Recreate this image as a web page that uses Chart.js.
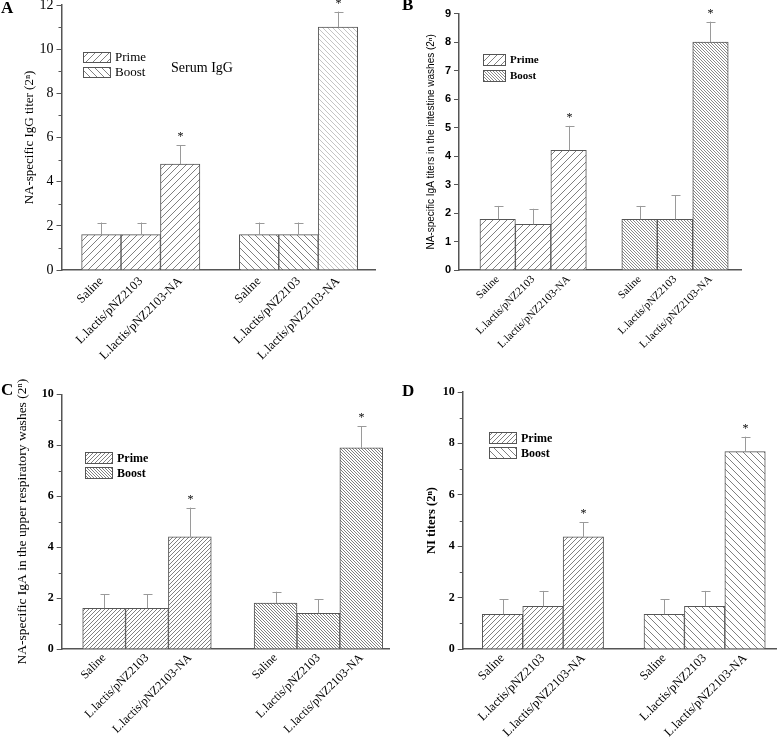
<!DOCTYPE html>
<html>
<head>
<meta charset="utf-8">
<script src="https://cdn.jsdelivr.net/npm/chart.js@4.4.1/dist/chart.umd.min.js"></script>
<style>
  body { margin: 0; background: #fff; width: 777px; height: 739px; overflow: hidden; position: relative; }
  canvas { position: absolute; }
  .tag { position: absolute; font: bold 17px "Liberation Serif", serif; color: #000; line-height: 1; }
</style>
</head>
<body>
<canvas id="chartA" width="390" height="390" style="left:0;top:-20px"></canvas>
<canvas id="chartB" width="387" height="390" style="left:390px;top:-20px"></canvas>
<canvas id="chartC" width="390" height="409" style="left:0;top:330px"></canvas>
<canvas id="chartD" width="387" height="409" style="left:390px;top:330px"></canvas>
<div class="tag" style="left:1px;top:-1px">A</div>
<div class="tag" style="left:402px;top:-4px">B</div>
<div class="tag" style="left:1px;top:381px">C</div>
<div class="tag" style="left:402px;top:382px">D</div>
<script>
const groups = ['Saline', 'L.lactis/pNZ2103', 'L.lactis/pNZ2103-NA'];
const seriesNames = ['Prime', 'Boost'];
const starred = [false, false, true];

// A: serum IgG
const iggPrime = [1.6, 1.6, 4.8];
const iggPrimeSd = [0.55, 0.55, 0.85];
const iggBoost = [1.6, 1.6, 11.0];
const iggBoostSd = [0.55, 0.55, 0.7];

// B: IgA, intestine washes
const gutPrime = [1.78, 1.6, 4.2];
const gutPrimeSd = [0.47, 0.55, 0.86];
const gutBoost = [1.78, 1.78, 8.0];
const gutBoostSd = [0.47, 0.84, 0.72];

// C: IgA, upper respiratory washes
const respPrime = [1.6, 1.6, 4.4];
const respPrimeSd = [0.55, 0.55, 1.15];
const respBoost = [1.8, 1.4, 7.9];
const respBoostSd = [0.45, 0.55, 0.85];

// D: NI titers
const niPrime = [1.35, 1.66, 4.36];
const niPrimeSd = [0.58, 0.6, 0.57];
const niBoost = [1.35, 1.66, 7.68];
const niBoostSd = [0.58, 0.6, 0.58];

// bar slots on the x axis (layout)
const slots = [[1, 2, 3], [5, 6, 7]];

Chart.defaults.animation = false;
Chart.defaults.responsive = false;

function hatch(dir, step, color) {
    const c = document.createElement('canvas');
    c.width = step;
    c.height = step;
    const g = c.getContext('2d');
    g.fillStyle = '#fff';
    g.fillRect(0, 0, step, step);
    g.strokeStyle = color;
    g.lineWidth = 1;
    g.beginPath();
    if (dir === '/') {
        g.moveTo(-1, step + 1); g.lineTo(step + 1, -1);
        g.moveTo(-1, 1); g.lineTo(1, -1);
        g.moveTo(step - 1, step + 1); g.lineTo(step + 1, step - 1);
    } else {
        g.moveTo(-1, -1); g.lineTo(step + 1, step + 1);
        g.moveTo(step - 1, -1); g.lineTo(step + 1, 1);
        g.moveTo(-1, step - 1); g.lineTo(1, step + 1);
    }
    g.stroke();
    return g.createPattern(c, 'repeat');
}

// error bars, asterisks, minor ticks, legend and notes
const deco = {
    id: 'deco',
    afterDraw(chart, args, opts) {
        const ctx = chart.ctx;
        const y = chart.scales.y;
        const area = chart.chartArea;
        ctx.save();
        chart.data.datasets.forEach((ds, di) => {
            chart.getDatasetMeta(di).data.forEach((bar, i) => {
                const top = y.getPixelForValue(ds.data[i].y + ds.errors[i]);
                const bx = Math.round(bar.x) + 0.5;
                ctx.strokeStyle = '#9a9a9a';
                ctx.lineWidth = 1;
                ctx.beginPath();
                ctx.moveTo(bx, bar.y);
                ctx.lineTo(bx, top);
                ctx.moveTo(bx - 4, Math.round(top) + 0.5);
                ctx.lineTo(bx + 5, Math.round(top) + 0.5);
                ctx.stroke();
                if (starred[i]) {
                    ctx.fillStyle = '#000';
                    ctx.font = '12px "Liberation Serif"';
                    ctx.textAlign = 'center';
                    ctx.textBaseline = 'alphabetic';
                    ctx.fillText('*', bx, top - 5);
                }
            });
        });

        if (opts.minor) {
            ctx.strokeStyle = '#555';
            ctx.lineWidth = 1;
            ctx.beginPath();
            for (let v = 1; v < y.max; v += 2) {
                const py = Math.round(y.getPixelForValue(v)) + 0.5;
                ctx.moveTo(area.left - 3, py);
                ctx.lineTo(area.left, py);
            }
            ctx.stroke();
        }

        const lg = opts.legend;
        chart.data.datasets.forEach((ds, di) => {
            const bx = lg.x, by = lg.y + di * lg.step;
            ctx.fillStyle = ds.legendFill;
            ctx.fillRect(bx, by, lg.w, lg.h);
            ctx.strokeStyle = '#555';
            ctx.lineWidth = 1;
            ctx.strokeRect(bx + 0.5, by + 0.5, lg.w, lg.h);
            ctx.fillStyle = '#000';
            ctx.font = lg.font;
            ctx.textAlign = 'left';
            ctx.textBaseline = 'middle';
            ctx.fillText(ds.label, bx + lg.w + 5, by + lg.h / 2 + 1);
        });

        if (opts.note) {
            ctx.fillStyle = '#000';
            ctx.font = opts.note.font;
            ctx.textAlign = 'center';
            ctx.textBaseline = 'middle';
            ctx.fillText(opts.note.text, opts.note.x, opts.note.y);
        }
        ctx.restore();
    }
};

function makeChart(id, p) {
    const tickLabels = groups.concat(groups);
    const tickAt = slots[0].concat(slots[1]);
    const fills = p.fills;
    return new Chart(id, {
        type: 'bar',
        data: {
            datasets: [
                {
                    label: seriesNames[0],
                    data: p.prime.map((v, i) => ({ x: slots[0][i], y: v })),
                    errors: p.primeSd,
                    backgroundColor: fills[0],
                    legendFill: fills[0],
                    borderColor: '#555',
                    borderWidth: 1,
                    grouped: false,
                    barPercentage: 1,
                    categoryPercentage: 1
                },
                {
                    label: seriesNames[1],
                    data: p.boost.map((v, i) => ({ x: slots[1][i], y: v })),
                    errors: p.boostSd,
                    backgroundColor: p.boostBars || fills[1],
                    legendFill: fills[1],
                    borderColor: '#555',
                    borderWidth: 1,
                    grouped: false,
                    barPercentage: 1,
                    categoryPercentage: 1
                }
            ]
        },
        options: {
            events: [],
            layout: { padding: p.pad },
            plugins: {
                legend: { display: false },
                tooltip: { enabled: false },
                deco: { minor: p.minor, legend: p.legend, note: p.note }
            },
            scales: {
                x: {
                    type: 'linear',
                    offset: false,
                    min: p.xmin,
                    max: p.xmax,
                    grid: { display: false, drawTicks: false },
                    border: { color: '#555', width: 1.5 },
                    afterBuildTicks: s => { s.ticks = tickAt.map(v => ({ value: v })); },
                    afterFit: s => { s.height = p.xh; },
                    ticks: {
                        autoSkip: false,
                        minRotation: 45,
                        maxRotation: 45,
                        padding: p.xPad,
                        color: '#000',
                        font: p.xFont,
                        callback: (v, i) => tickLabels[i]
                    }
                },
                y: {
                    min: 0,
                    max: p.ymax,
                    afterFit: s => { s.width = p.yw; },
                    border: { color: '#555', width: 1.5 },
                    grid: { drawOnChartArea: false, tickLength: 5, color: '#555' },
                    ticks: { stepSize: p.step, padding: 3, color: '#000', font: p.yFont },
                    title: {
                        display: true,
                        text: p.title,
                        color: '#000',
                        font: p.titleFont,
                        padding: { top: p.titlePad, bottom: 0 }
                    }
                }
            }
        },
        plugins: [deco]
    });
}

const serif = '"Liberation Serif", "Times New Roman", serif';
const sans = '"Liberation Sans", Arial, sans-serif';

const aPrime = hatch('/', 7, '#808080');
const aBoost = hatch('\\', 7, '#808080');
const aBoostLight = hatch('\\', 5, '#c4c4c4');
makeChart('chartA', {
    prime: iggPrime, primeSd: iggPrimeSd, boost: iggBoost, boostSd: iggBoostSd,
    fills: [aPrime, aBoost], boostBars: [aBoost, aBoost, aBoostLight],
    pad: { top: 25, right: 15, left: 0, bottom: 0 },
    xmin: -0.01, xmax: 7.94, xh: 100, yw: 61.5, ymax: 12, step: 2, minor: true,
    xFont: { family: serif, size: 12.5 }, xPad: 4,
    yFont: { family: serif, size: 14 },
    title: 'NA-specific IgG titer (2ⁿ)', titleFont: { family: serif, size: 13 }, titlePad: 22,
    legend: { x: 83, y: 72, w: 27, h: 10, step: 15, font: '13px ' + serif },
    note: { text: 'Serum IgG', x: 202, y: 88, font: '14px ' + serif }
});

makeChart('chartB', {
    prime: gutPrime, primeSd: gutPrimeSd, boost: gutBoost, boostSd: gutBoostSd,
    fills: [hatch('/', 7, '#808080'), hatch('\\', 3, '#8a8a8a')],
    pad: { top: 33.7, right: 35.3, left: 0, bottom: 0 },
    xmin: -0.09, xmax: 7.88, xh: 100, yw: 69, ymax: 9, step: 1, minor: false,
    xFont: { family: serif, size: 11 }, xPad: 3,
    yFont: { family: sans, size: 11, weight: 'bold' },
    title: 'NA-specific IgA titers in the intestine washes (2ⁿ)', titleFont: { family: sans, size: 10 }, titlePad: 35,
    legend: { x: 93, y: 74, w: 22, h: 11, step: 16, font: 'bold 11px ' + serif }
});

makeChart('chartC', {
    prime: respPrime, primeSd: respPrimeSd, boost: respBoost, boostSd: respBoostSd,
    fills: [hatch('/', 4, '#808080'), hatch('\\', 3, '#808080')],
    pad: { top: 64.3, right: 0, left: 0, bottom: 0 },
    xmin: 0.01, xmax: 7.67, xh: 90, yw: 61.7, ymax: 10, step: 2, minor: true,
    xFont: { family: serif, size: 12 }, xPad: 2,
    yFont: { family: serif, size: 12, weight: 'bold' },
    title: 'NA-specific IgA in the upper respiratory washes (2ⁿ)', titleFont: { family: serif, size: 13.5 }, titlePad: 14,
    legend: { x: 85, y: 122, w: 27, h: 11, step: 15, font: 'bold 12px ' + serif }
});

makeChart('chartD', {
    prime: niPrime, primeSd: niPrimeSd, boost: niBoost, boostSd: niBoostSd,
    fills: [hatch('/', 5, '#808080'), hatch('\\', 7, '#808080')],
    pad: { top: 62, right: 0, left: 0, bottom: 0 },
    xmin: 0.015, xmax: 7.79, xh: 90, yw: 72.7, ymax: 10, step: 2, minor: true,
    xFont: { family: serif, size: 12.5 }, xPad: 2,
    yFont: { family: serif, size: 12, weight: 'bold' },
    title: 'NI titers (2ⁿ)', titleFont: { family: serif, size: 12.5, weight: 'bold' }, titlePad: 34,
    legend: { x: 99, y: 102, w: 27, h: 11, step: 15, font: 'bold 12px ' + serif }
});
</script>
</body>
</html>
